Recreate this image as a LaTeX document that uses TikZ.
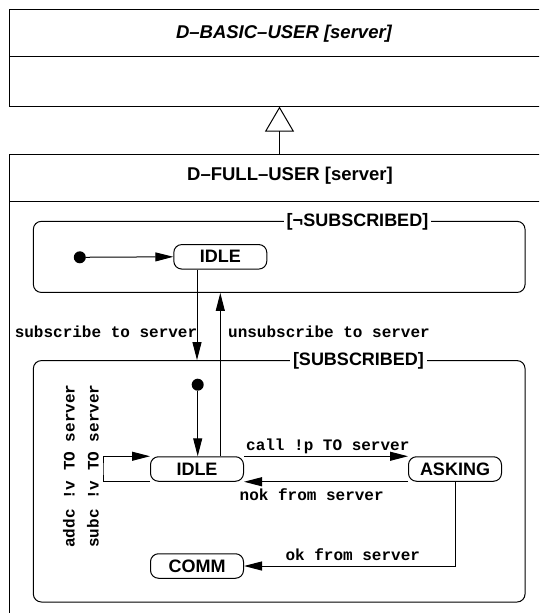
\documentclass[tikz,border=0pt]{standalone}
\usepackage{fontspec}
\setmainfont{Liberation Sans}
\setmonofont{Liberation Mono}
\usetikzlibrary{arrows.meta,calc}

\begin{document}
\begin{tikzpicture}[x=1pt,y=-1pt,
		classbox/.style={draw,line width=1pt,anchor=north west,minimum width=560,inner sep=0},
		region/.style={draw,line width=1pt,rounded corners=8,inner sep=0},
		regionlbl/.style={fill=white,inner xsep=3,inner ysep=0,font=\fontsize{18}{20}\selectfont\bfseries},
		state/.style={draw,line width=1pt,rounded corners=8,minimum width=93,minimum height=24.5,inner sep=0,font=\fontsize{18}{20}\selectfont\bfseries},
		init/.style={circle,fill=black,minimum size=12,inner sep=0},
		trans/.style={line width=1pt,-{Triangle[length=18,width=9]}},
		lbl/.style={inner sep=0,font=\fontsize{16}{18}\selectfont\ttfamily\bfseries},
		inherit/.style={line width=1pt,-{Triangle[open,length=25,width=29]}}]
		%%%%% START %%%%%
		\useasboundingbox (0,0) rectangle (539,613);
		\clip (0,0) rectangle (539,613);
		
		% classes
		\node[classbox,minimum height=97] (basic) at (9,8.6) {};
		\draw[line width=1pt] (9,56.7) -- (570,56.7);
		\node[font=\fontsize{18.5}{20}\selectfont\bfseries\itshape,anchor=base] (basicname) at (284,38.5) {D–BASIC–USER [server]};
		
		\node[classbox,minimum height=500] (full) at (9,154) {};
		\draw[line width=1pt] (9,201) -- (570,201);
		\node[font=\fontsize{18.5}{20}\selectfont\bfseries,anchor=base] (fullname) at (290,180.5) {D–FULL–USER [server]};
		
		\coordinate (gen) at (279.5,154);
		\draw[inherit] (gen) -- (gen |- basic.south);
		
		% regions
		\node[region,minimum width=491.7,minimum height=71.1] (unsub) at (279.2,256.9) {};
		\node[regionlbl] (unsubname) at (357.5,222) {[¬SUBSCRIBED]};
		\node[region,minimum width=491.7,minimum height=241.4] (sub) at (279.2,481.3) {};
		\node[regionlbl] (subname) at (358.5,361) {[SUBSCRIBED]};
		
		% states
		\node[init] (init1) at (79.8,257.3) {};
		\node[state] (idle1) at (220.3,256.8) {IDLE};
		\node[init] (init2) at (197.7,384.7) {};
		\node[state] (idle2) at (197,469) {IDLE};
		\node[state] (asking) at (455,469) {ASKING};
		\node[state] (comm) at (197,566) {COMM};
		\coordinate (loop) at (103,469);
		
		% transitions
		\draw[trans] (init1) -- (idle1.west);
		\draw[trans] (idle2.north |- idle1.south) -- (idle2.north |- sub.north);
		\draw[trans] (idle1.south |- idle2.north) -- (idle1.south |- unsub.south);
		\draw[trans] (init2) -- (idle2.north -| init2);
		\draw[trans] (idle2.north east) -- (asking.north west);
		\draw[trans] (asking.south west) -- (idle2.south east);
		\draw[trans] (asking.south) |- (comm.east);
		\draw[trans] (idle2.south west) -| (loop) |- (idle2.north west);
		
		\node[lbl] (lsub) at (106,331.3) {subscribe to server};
		\node[lbl] (lunsub) at (329,331.3) {unsubscribe to server};
		\node[lbl] (lcall) at (327.8,446.6) {call !p TO server};
		\node[lbl] (lnok) at (311.7,494.7) {nok from server};
		\node[lbl] (lok) at (352.8,554.8) {ok from server};
		\node[lbl,rotate=90] (laddc) at (68.8,466) {addc !v TO server};
		\node[lbl,rotate=90] (lsubc) at (92.8,466) {subc !v TO server};
		
		%%%%% END %%%%%
	\end{tikzpicture}
\end{document}
